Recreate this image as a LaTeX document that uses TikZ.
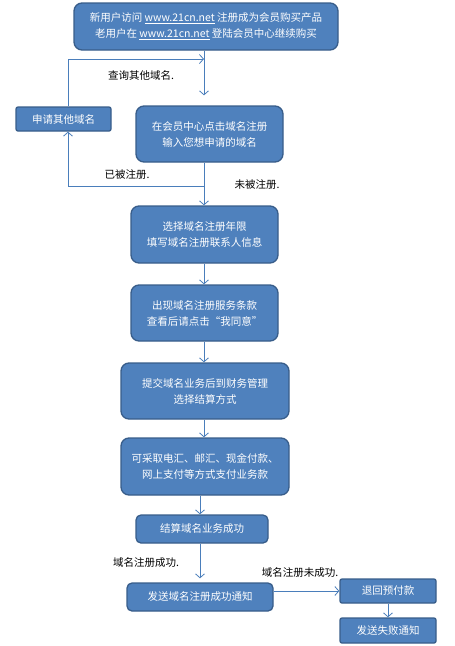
\documentclass[tikz,border=0pt]{standalone}
\usepackage{fontspec}
\setmainfont{Noto Sans CJK SC}
\usetikzlibrary{arrows.meta}
\definecolor{boxblue}{HTML}{4F81BD}
\definecolor{boxedge}{HTML}{385D8A}
\definecolor{flowblue}{HTML}{4A7EBB}
\begin{document}
\begin{tikzpicture}[x=1pt, y=-1pt,
    every node/.style={font=\fontsize{10.5}{16}\selectfont},
    box/.style={draw=boxedge, line width=1.3pt, fill=boxblue, text=white,
      rounded corners=8pt, align=center, inner sep=0pt},
    smallbox/.style={box, rounded corners=2pt},
    flow/.style={draw=flowblue, line width=0.8pt,
      -{Straight Barb[length=4pt, width=9pt]}},
    note/.style={inner sep=0pt}]
  \useasboundingbox (0,0) rectangle (455,646);

  % Entry
  \node [box, minimum width=264pt, minimum height=47pt] (entry) at (206,26.5)
        {新用户访问 \underline{www.21cn.net} 注册成为会员购买产品\\
         老用户在 \underline{www.21cn.net} 登陆会员中心继续购买};

  % Search and retry
  \node [box, minimum width=147pt, minimum height=56pt] (search) at (209.5,134)
        {在会员中心点击域名注册\\输入您想申请的域名};
  \node [smallbox, minimum width=95pt, minimum height=24pt] (apply) at (63.5,119)
        {申请其他域名};

  % Registration steps
  \node [box, minimum width=147pt, minimum height=57pt] (years) at (204.5,234.5)
        {选择域名注册年限\\填写域名注册联系人信息};
  \node [box, minimum width=147pt, minimum height=56pt] (terms) at (204.5,313)
        {出现域名注册服务条款\\查看后请点击“我同意”};
  \node [box, minimum width=168pt, minimum height=56pt] (submit) at (205,391)
        {提交域名业务后到财务管理\\选择结算方式};
  \node [box, minimum width=168pt, minimum height=57pt] (pay) at (205,466.5)
        {可采取电汇、邮汇、现金付款、\\网上支付等方式支付业务款};
  \node [box, rounded corners=5pt, minimum width=132pt, minimum height=28pt]
        (settled) at (202,529) {结算域名业务成功};

  % Results
  \node [box, rounded corners=5pt, minimum width=146pt, minimum height=28pt]
        (success) at (200,597) {发送域名注册成功通知};
  \node [smallbox, minimum width=96pt, minimum height=24pt] (refund) at (388,591)
        {退回预付款};
  \node [smallbox, minimum width=96pt, minimum height=25pt] (fail) at (388,630.5)
        {发送失败通知};

  % Labels
  \node [note] (otherlbl) at (141,75) {查询其他域名.};
  \node [note] (takenlbl) at (127,175) {已被注册.};
  \node [note] (freelbl) at (257,185) {未被注册.};
  \node [note] (oklbl) at (146,563) {域名注册成功.};
  \node [note] (notoklbl) at (300,573) {域名注册未成功.};

  % Edges
  \coordinate (spine) at (204,0);
  \coordinate (lowspine) at (200,0);
  \coordinate (loop) at (68,0);
  \coordinate (join) at (204,59);
  \coordinate (split) at (204,186);
  \draw [flow, shorten >=10pt] (entry.south -| spine) -- (search.north -| spine);
  \draw [flow] (apply.north -| loop) |- (join);
  \draw [flow] (search.south -| spine) -- (years.north -| spine);
  \draw [flow] (split) -| (apply.south -| loop);
  \draw [flow] (years.south -| spine) -- (terms.north -| spine);
  \draw [flow] (terms.south -| spine) -- (submit.north -| spine);
  \draw [flow] (submit.south -| spine) -- (pay.north -| spine);
  \draw [flow] (pay.south -| lowspine) -- (settled.north -| lowspine);
  \draw [flow, shorten >=4pt] (settled.south -| lowspine) -- (success.north -| lowspine);
  \draw [flow] (success.east |- refund.west) -- (refund.west);
  \draw [flow] (refund.south) -- (fail.north);
\end{tikzpicture}
\end{document}
